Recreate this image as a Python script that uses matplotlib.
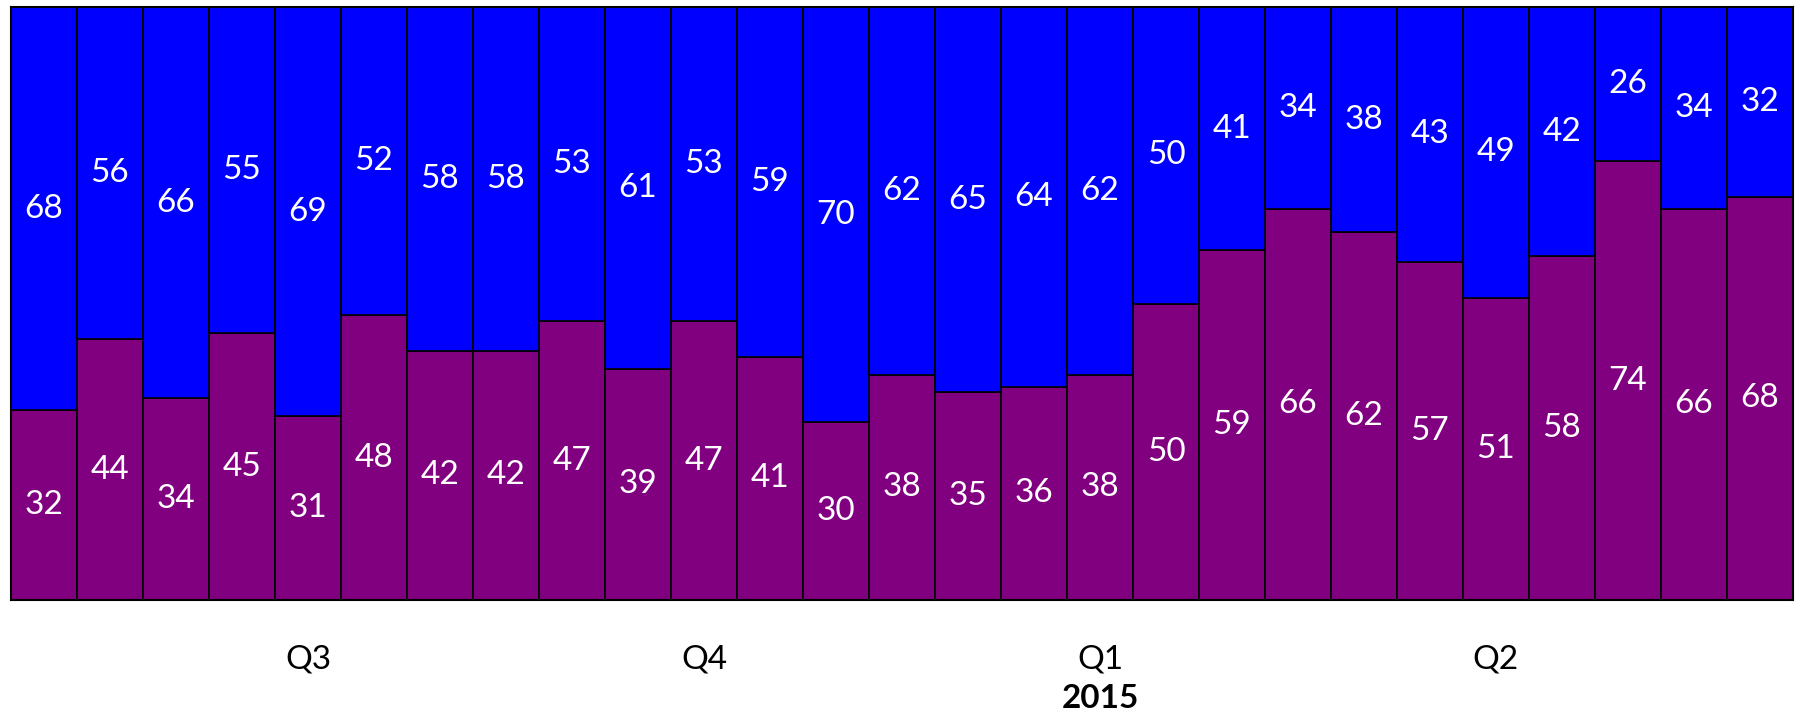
import matplotlib
matplotlib.use('Agg')
import matplotlib.pyplot as plt
import numpy as np

# share of each bar (%), bottom = purple, top = blue
purple_vals = [32, 44, 34, 45, 31, 48, 42, 42, 47, 39, 47, 41, 30, 38,
               35, 36, 38, 50, 59, 66, 62, 57, 51, 58, 74, 66, 68]
blue_vals = [68, 56, 66, 55, 69, 52, 58, 58, 53, 61, 53, 59, 70, 62,
             65, 64, 62, 50, 41, 34, 38, 43, 49, 42, 26, 34, 32]
quarter_pos = [4, 10, 16, 22]
quarter_labels = ['Q3', 'Q4', 'Q1', 'Q2']
year_label = '2015'
year_pos = 16

plt.rcParams['font.family'] = ['Lato', 'DejaVu Sans']

fig = plt.figure(figsize=(17.97, 7.15), dpi=100)
ax = fig.add_axes([11 / 1797, 1 - 600 / 715, 1782 / 1797, 593 / 715])

x = np.arange(len(purple_vals))
purple = np.array(purple_vals)
blue = np.array(blue_vals)

ax.bar(x, purple, width=1.0, color='#800080', edgecolor='black', linewidth=1.2)
ax.bar(x, blue, width=1.0, bottom=purple, color='#0000ff', edgecolor='black', linewidth=1.2)

for i in x:
    ax.text(i, purple[i] / 2, str(purple[i]), color='white', ha='center', va='center', fontsize=24)
    ax.text(i, purple[i] + blue[i] / 2, str(blue[i]), color='white', ha='center', va='center', fontsize=24)

ax.set_xlim(-0.5, len(x) - 0.5)
ax.set_ylim(0, 100)
ax.set_yticks([])
ax.set_xticks(quarter_pos)
ax.set_xticklabels(quarter_labels, fontsize=24)
ax.tick_params(axis='x', length=0, pad=32)
for s in ax.spines.values():
    s.set_linewidth(1.5)

fig.text(ax.transData.transform((year_pos, 0))[0] / fig.bbox.width, 1 - 699 / 715, year_label,
         ha='center', va='center', fontsize=24, fontweight='bold')

fig.savefig('out.png', dpi=100)
